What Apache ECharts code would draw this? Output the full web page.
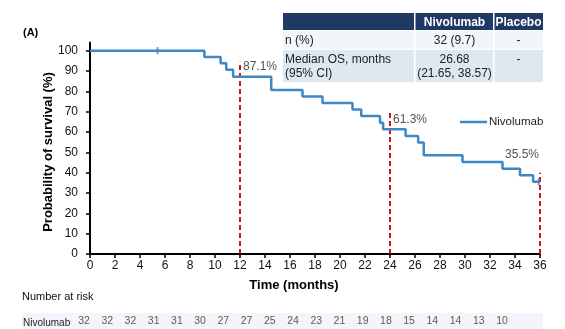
<!DOCTYPE html>
<html><head><meta charset="utf-8">
<script src="https://cdn.jsdelivr.net/npm/echarts@6/dist/echarts.min.js"></script>
<style>html,body{margin:0;padding:0;background:#fff}#c{width:565px;height:329px}</style>
</head><body><div id="c"></div>
<script>
// KM step data (months, survival %)
const kmTimes = [0, 9.15, 10.45, 10.9, 11.45, 14.5, 17.0, 18.6, 21.0, 21.7, 23.2, 23.45, 25.25, 26.25, 26.7, 29.8, 33.0, 34.4, 35.45, 36];
const kmSurv  = [100, 96.9, 93.8, 90.6, 87.1, 80.6, 77.4, 74.2, 71.0, 67.8, 64.5, 61.3, 58.0, 54.8, 48.5, 45.2, 41.9, 38.7, 35.5, 35.5];
const censorTimes = [5.4, 35.9];
const censorSurv = [100, 35.5];
const milestoneMonths = [12, 24, 36];
const milestoneValues = [87.1, 61.3, 35.5];
const milestoneLineTop = [94.5, 69.5, 40];
const yTicks = [0,10,20,30,40,50,60,70,80,90,100];
const riskMonths = [0,2,4,6,8,10,12,14,16,18,20,22,24,26,28,30,32,34,36];
const riskCounts = [32,32,32,31,31,30,27,27,25,24,23,21,19,18,15,14,14,13,10];
const tableHeader = ['', 'Nivolumab', 'Placebo'];
const tableRow1 = ['n (%)', '32 (9.7)', '-'];
const tableRow2 = ['Median OS, months\n(95% CI)', '26.68\n(21.65, 38.57)', '-'];
const seriesName = 'Nivolumab';

const FONT = 'Liberation Sans, Arial, sans-serif';
const blue = '#3d88c5';
const red = '#c00000';

const km = kmTimes.map((t, i) => [t, kmSurv[i]]);
const dashSeries = milestoneMonths.map((m, i) => ({
  type: 'line', xAxisIndex: 0, yAxisIndex: 0, silent: true, symbol: 'none',
  data: [[m, 0], [m, milestoneLineTop[i]]],
  lineStyle: { color: red, width: 1.8, type: [5, 3] }, z: 1
}));
const labelPos = [
  { align: 'left', dx: 3, val: 92.2 },
  { align: 'left', dx: 3, val: 66.0 },
  { align: 'right', dx: 1, val: 48.6 }
];
const labelSeries = {
  type: 'scatter', xAxisIndex: 0, yAxisIndex: 0, silent: true, symbolSize: 0,
  data: milestoneMonths.map((m, i) => ({
    value: [m, labelPos[i].val],
    label: { show: true, position: labelPos[i].align === 'left' ? 'right' : 'left',
      distance: labelPos[i].dx, formatter: milestoneValues[i].toFixed(1) + '%',
      fontFamily: FONT, fontSize: 12, color: '#262626' }
  })), z: 5
};

const chart = echarts.init(document.getElementById('c'), null, { renderer: 'canvas' });

// table graphics
const tX = [283, 415, 494, 543];
const tY = [13, 30, 49, 82];
const g = [];
g.push({ type: 'rect', shape: { x: tX[0], y: tY[0], width: tX[3] - tX[0], height: tY[1] - tY[0] }, style: { fill: '#1f3864' } });
g.push({ type: 'rect', shape: { x: tX[0], y: tY[1] + 1, width: tX[3] - tX[0], height: tY[2] - tY[1] - 1 }, style: { fill: '#f2f6fa' } });
g.push({ type: 'rect', shape: { x: tX[0], y: tY[2] + 1, width: tX[3] - tX[0], height: tY[3] - tY[2] - 1 }, style: { fill: '#dde8f1' } });
[tX[1], tX[2]].forEach(x => g.push({ type: 'rect', shape: { x: x - 1, y: tY[0], width: 1.5, height: tY[3] - tY[0] }, style: { fill: '#ffffff' } }));
const colCx = [tX[0] + 2, (tX[1] + tX[2]) / 2, (tX[2] + tX[3]) / 2];
tableHeader.forEach((txt, i) => { if (txt) g.push({ type: 'text', x: colCx[i], y: (tY[0] + tY[1]) / 2 + 1, style: { text: txt, fill: '#fff', font: 'bold 12px ' + FONT, textAlign: 'center', textVerticalAlign: 'middle' } }); });
tableRow1.forEach((txt, i) => g.push({ type: 'text', x: colCx[i], y: (tY[1] + tY[2]) / 2 + 1, style: { text: txt, fill: '#222', font: '12px ' + FONT, textAlign: i === 0 ? 'left' : 'center', textVerticalAlign: 'middle' } }));
tableRow2.forEach((txt, i) => g.push({ type: 'text', x: colCx[i], y: i === 2 ? 60 : (tY[2] + tY[3]) / 2 + 1, style: { text: txt, fill: '#222', font: '12px ' + FONT, lineHeight: 14, textAlign: i === 0 ? 'left' : 'center', textVerticalAlign: 'middle' } }));
// titles
g.push({ type: 'text', x: 23, y: 33, style: { text: '(A)', fill: '#000', font: 'bold 11px ' + FONT, textAlign: 'left', textVerticalAlign: 'middle' } });
g.push({ type: 'text', x: 294, y: 285, style: { text: 'Time (months)', fill: '#000', font: 'bold 13px ' + FONT, textAlign: 'center', textVerticalAlign: 'middle' } });
g.push({ type: 'text', x: 48, y: 152, rotation: Math.PI / 2, style: { text: 'Probability of survival (%)', fill: '#000', font: 'bold 13px ' + FONT, textAlign: 'center', textVerticalAlign: 'middle' } });
// risk table
g.push({ type: 'text', x: 22, y: 297, style: { text: 'Number at risk', fill: '#111', font: '11px ' + FONT, textAlign: 'left', textVerticalAlign: 'middle' } });
g.push({ type: 'rect', z: -1, shape: { x: 22, y: 313, width: 521, height: 19 }, style: { fill: '#f2f5f9' } });
g.push({ type: 'text', x: 23, y: 323, style: { text: seriesName, fill: '#222', font: '10px ' + FONT, textAlign: 'left', textVerticalAlign: 'middle' } });

chart.setOption({
  animation: false,
  backgroundColor: '#fff',
  grid: [
    { left: 90, right: 25, top: 42.5, bottom: 75, containLabel: false },
    { left: 84, right: 63, top: 313, height: 19, containLabel: false }
  ],
  xAxis: [
    { type: 'value', gridIndex: 0, min: 0, max: 36, interval: 2,
      axisLine: { show: true, lineStyle: { color: '#000', width: 2 } },
      axisTick: { show: true, length: 4, lineStyle: { color: '#000', width: 1.5 } },
      axisLabel: { fontFamily: FONT, fontSize: 12, color: '#111', margin: 6 },
      splitLine: { show: false } },
    { type: 'value', gridIndex: 1, min: 0, max: 36, show: false }
  ],
  yAxis: [
    { type: 'value', gridIndex: 0, min: 0, max: 104, interval: 10,
      axisLine: { show: true, lineStyle: { color: '#000', width: 2 } },
      axisTick: { show: true, length: 4, customValues: yTicks, lineStyle: { color: '#000', width: 1.5 } },
      axisLabel: { fontFamily: FONT, fontSize: 12, color: '#111', margin: 12, customValues: yTicks },
      splitLine: { show: false } },
    { type: 'value', gridIndex: 1, min: 0, max: 1, show: false }
  ],
  legend: {
    data: [seriesName], left: 455, top: 111, icon: 'rect', itemWidth: 27, itemHeight: 2.5,
    itemGap: 2, textStyle: { fontFamily: FONT, fontSize: 11.5, color: '#222', padding: [0, 0, 0, -3] }
  },
  graphic: g,
  series: [
    ...dashSeries,
    { name: seriesName, type: 'line', xAxisIndex: 0, yAxisIndex: 0, step: 'end', symbol: 'none',
      data: km, lineStyle: { color: blue, width: 2.5 }, itemStyle: { color: blue }, z: 3 },
    { type: 'scatter', xAxisIndex: 0, yAxisIndex: 0, symbol: 'rect', symbolSize: [2, 7],
      data: censorTimes.map((t, i) => [t, censorSurv[i]]), itemStyle: { color: blue }, z: 4 },
    labelSeries,
    { type: 'scatter', xAxisIndex: 1, yAxisIndex: 1, symbolSize: 0, silent: true,
      data: riskMonths.map((m, i) => ({ value: [m, 0.5], label: { show: true, position: 'inside', formatter: String(riskCounts[i]), fontFamily: FONT, fontSize: 10.5, color: '#333' } })) }
  ]
});
</script></body></html>
